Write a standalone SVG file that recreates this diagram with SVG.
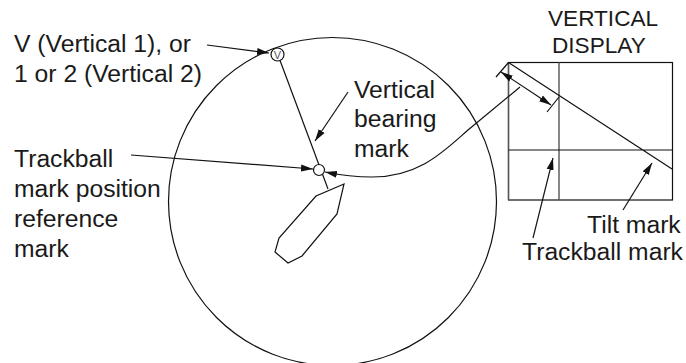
<svg xmlns="http://www.w3.org/2000/svg" width="686" height="363" viewBox="0 0 686 363">
<style>
.l{fill:none;stroke:#111;stroke-width:1.2}
.g{fill:none;stroke:#555;stroke-width:1.4}
text{font-family:"Liberation Sans",Arial,sans-serif;font-size:24.700px;fill:#1a1a1a}
.h{font-size:22.600px}
</style>
<defs>
<marker id="a" markerUnits="userSpaceOnUse" markerWidth="13" markerHeight="8" refX="12" refY="4" orient="auto-start-reverse"><path d="M0 0.500L12 4L0 7.500Z" fill="#111"/></marker>
</defs>
<rect width="686" height="363" fill="#fff"/>
<g id="radar"><circle class="l" cx="332.500" cy="201.500" r="164"/></g>
<g id="ship"><path class="l" d="M344 184L316 196L279 238L275 252L288 263L302 256L337 214Z"/></g>
<g id="vertical-display">
<rect class="l" x="508.500" y="62.500" width="164" height="137.500"/>
<path class="g" d="M559 62.500V200M508.500 62.500V200"/>
<path class="l" d="M508.500 150H672.500M508.500 62.500L672 169"/>
</g>
<g id="connectors">
<path class="l" d="M278 55L328 189"/>
<path class="l" marker-end="url(#a)" d="M207 45L269 53"/>
<path class="l" marker-end="url(#a)" d="M348 92L315 141"/>
<path class="l" marker-end="url(#a)" d="M131 155L313 169"/>
<path class="l" marker-end="url(#a)" d="M520 87L468 130C445 150 420 177 372 177C355 177 340 175 325 172"/>
<path class="l" d="M508.500 62.500L496 77M559 97L547 112"/>
<path class="l" marker-start="url(#a)" marker-end="url(#a)" d="M501 72L551 105"/>
<path class="l" marker-end="url(#a)" d="M533 238L553 158"/>
<path class="l" marker-end="url(#a)" d="M623 210L652 163"/>
</g>
<g id="vertical-mark"><circle cx="277.500" cy="54.500" r="6.500" fill="#fff" stroke="#111" stroke-width="1.200"/><text x="277.500" y="58.500" text-anchor="middle" style="font-size:11px;fill:#555">V</text></g>
<g id="reference-mark"><circle cx="319" cy="170" r="5.500" fill="#fff" stroke="#111" stroke-width="1.200"/></g>
<g id="labels">
<text x="14" y="52">V (Vertical 1), or</text>
<text x="14" y="82">1 or 2 (Vertical 2)</text>
<text x="354" y="98">Vertical</text>
<text x="354" y="127">bearing</text>
<text x="354" y="157">mark</text>
<text x="14" y="167">Trackball</text>
<text x="14" y="197">mark position</text>
<text x="14" y="227">reference</text>
<text x="14" y="257">mark</text>
<text class="h" x="548" y="26">VERTICAL</text>
<text class="h" x="552" y="53">DISPLAY</text>
<text x="587" y="233">Tilt mark</text>
<text x="522" y="260">Trackball mark</text>
</g>
</svg>
